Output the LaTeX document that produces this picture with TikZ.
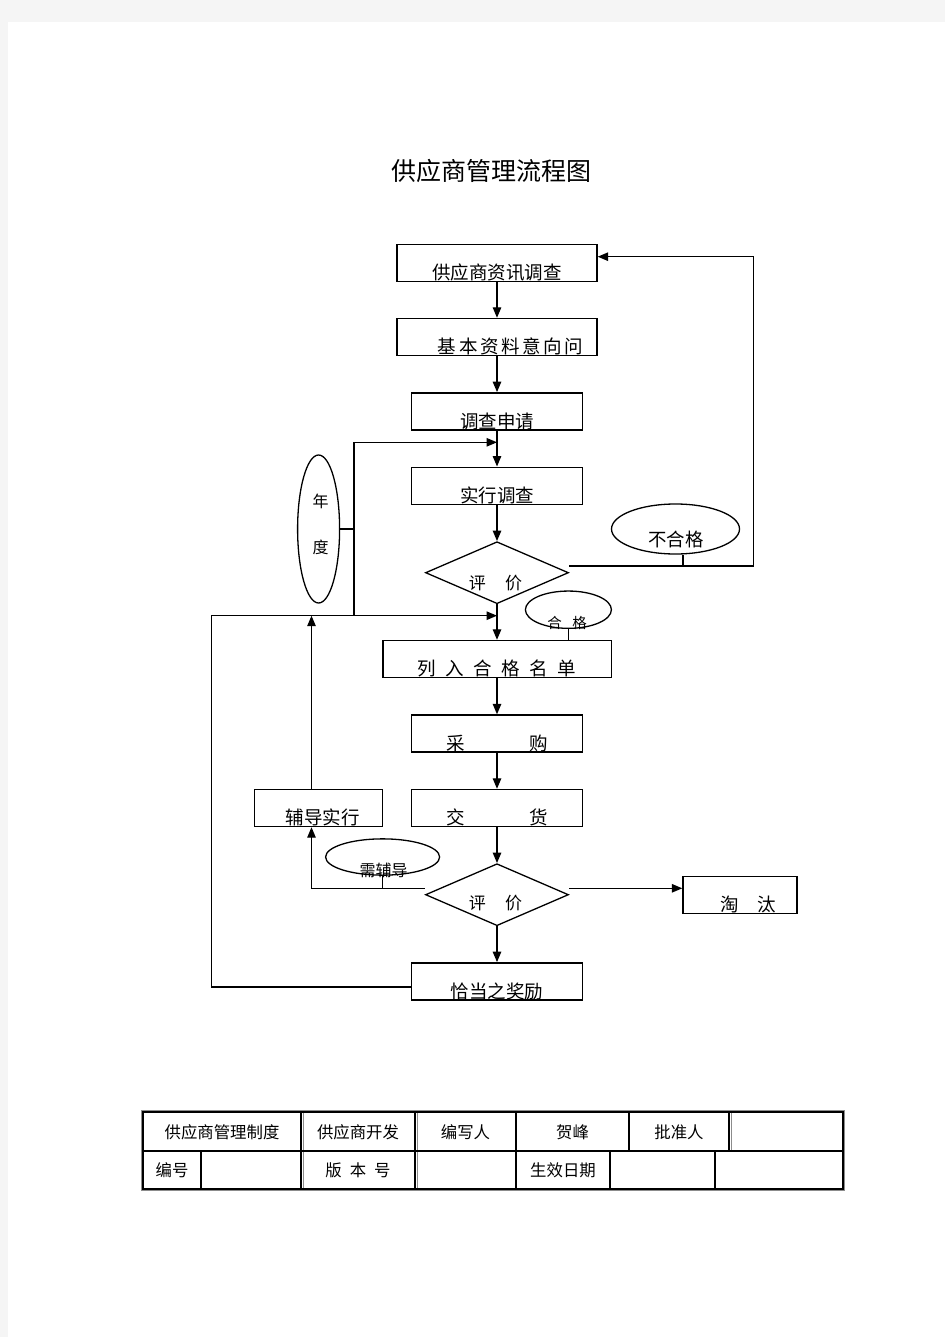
\documentclass[tikz,border=0pt]{standalone}
\usepackage{fontspec}
\setmainfont{Noto Sans CJK SC}
\usepackage{tikz}
\usetikzlibrary{shapes.geometric,arrows.meta}

\begin{document}
\begin{tikzpicture}[x=1pt,y=-1pt,
	flow/.style={line width=1.3pt,-{Triangle[length=10.5pt,width=8.5pt]}},
	link/.style={line width=1.3pt},
	procbox/.style={draw,line width=1.4pt,inner sep=0pt,minimum width=#1,text height=35.2pt,text depth=1.8pt,font=\fontsize{18.5}{18.5}\selectfont},
	judge/.style={draw,diamond,line width=1.3pt,inner sep=0pt,minimum width=143pt,minimum height=62pt},
	oval/.style={draw,ellipse,line width=1.3pt,inner sep=0pt},
	txt/.style={inner sep=0pt,font=\fontsize{#1}{#1}\selectfont},
	cell/.style={inner sep=0pt,font=\fontsize{16.4}{16.4}\selectfont}]
	\fill[black!4] (0,0) rectangle (945,1337);
	\fill[white] (8,22) rectangle (945,1337);
	\node[txt=25] (title) at (491,171) {供应商管理流程图};

	\node[procbox=200pt] (b1) at (497,263) {供应商资讯调查};
	\node[procbox=200pt] (b2) at (497,337) {\hspace{27pt}基\hspace{2.6pt}本\hspace{2.6pt}资\hspace{2.6pt}料\hspace{2.6pt}意\hspace{2.6pt}向\hspace{2.6pt}问};
	\node[procbox=171.5pt] (b3) at (497,411.3) {调查申请};
	\node[procbox=171.5pt] (b4) at (497,485.7) {实行调查};
	\node[judge] (d1) at (497,572.7) {};
	\node[procbox=228.4pt] (b6) at (497,659) {列\hspace{9.6pt}入\hspace{9.6pt}合\hspace{9.6pt}格\hspace{9.6pt}名\hspace{9.6pt}单};
	\node[procbox=171.5pt] (b7) at (497,733.5) {采\hspace{65pt}购};
	\node[procbox=171.5pt] (b8) at (497,808) {交\hspace{65pt}货};
	\node[judge] (d2) at (497,894.7) {};
	\node[procbox=171.5pt] (b10) at (497,981.3) {恰当之奖励};
	\node[procbox=128pt] (b11) at (318.5,808) {\hspace{8pt}辅导实行};
	\node[procbox=114pt] (b12) at (740,895) {\hspace{16pt}淘\hspace{19pt}汰};

	\node[txt=17] (d1t) at (495.4,583.3) {评\hspace{19.2pt}价};
	\node[txt=17] (d2t) at (495.4,903) {评\hspace{19.2pt}价};

	\node[oval,minimum width=42pt,minimum height=148pt] (nian) at (318.6,529) {};
	\node[txt=16,align=center] (niant) at (320.5,524.5) {年\\[29.6pt]度};
	\node[oval,minimum width=128pt,minimum height=50pt] (bhg) at (675.5,529) {};
	\node[txt=18.4] (bhgt) at (676,539) {不合格};
	\node[oval,minimum width=86pt,minimum height=37.3pt] (hg) at (568.4,609.7) {};
	\node[txt=14.5] (hgt) at (567,622.7) {合\hspace{10.5pt}格};
	\node[oval,minimum width=114pt,minimum height=36.3pt] (xfd) at (382.6,857) {};
	\node[txt=16] (xfdt) at (383.6,870) {需辅导};

	\foreach \a/\b in {b1/b2,b2/b3,b3/b4,b4/d1,d1/b6,b6/b7,b7/b8,b8/d2,d2/b10}
		\draw[flow] (\a) -- (\b);

	\coordinate (jtop) at (497,442.3);
	\coordinate (jmid) at (497,615.7);
	\coordinate (yrfoot) at (354,615.7);
	\coordinate (leftfoot) at (211.5,615.7);
	\coordinate (failcorner) at (753.8,566);
	\coordinate (guide) at ([yshift=6.4pt]d2.west);

	\draw[flow] (yrfoot) |- (jtop);
	\draw[link] (nian.east) -- (nian.east -| yrfoot);
	\draw[flow] ([yshift=6.7pt]d1.east) -- (failcorner) |- ([yshift=6.3pt]b1.east);
	\draw[link] ([xshift=7.5pt]bhg.south) -- ([xshift=7.5pt]bhg.south |- failcorner);
	\draw[link] (hg.south) -- (hg.south |- b6.north);
	\draw[flow] ([yshift=-5.7pt]b10.west) -| (leftfoot) -- (jmid);
	\draw[flow] (guide) -| ([xshift=-7pt]b11.south);
	\draw[flow] ([xshift=-7pt]b11.north) -- ([xshift=-7pt]b11.north |- jmid);
	\draw[link] (xfd.south) -- (xfd.south |- guide);
	\draw[flow] ([yshift=6.4pt]d2.east) -- ([yshift=6.4pt]d2.east -| b12.west);

	\draw[black!45,line width=0.8pt] (141.3,1110.3) rectangle (844.7,1190.7);
	\foreach \xg in {303,417}
		\draw[black!45,line width=0.8pt] (\xg,1112) -- (\xg,1189);
	\draw[black!45,line width=0.8pt] (731,1112) -- (731,1151);
	\foreach \xa/\xb/\txt [count=\i] in {143/301/供应商管理制度,301/415/供应商开发,415/516/编写人,516/629/贺峰,629/729/批准人,729/843/{}} {
		\draw[line width=1.5pt] (\xa,1112) rectangle (\xb,1151);
		\node[cell] (upper\i) at ({(\xa+\xb)/2},1132.3) {\txt};
	}
	\foreach \xa/\xb/\txt [count=\i] in {143/201/编号,201/301/{},301/415/版\hspace{8pt}本\hspace{8pt}号,415/516/{},516/610/生效日期,610/715/{},715/843/{}} {
		\draw[line width=1.5pt] (\xa,1151) rectangle (\xb,1189);
		\node[cell] (lower\i) at ({(\xa+\xb)/2},1170) {\txt};
	}
\end{tikzpicture}
\end{document}
